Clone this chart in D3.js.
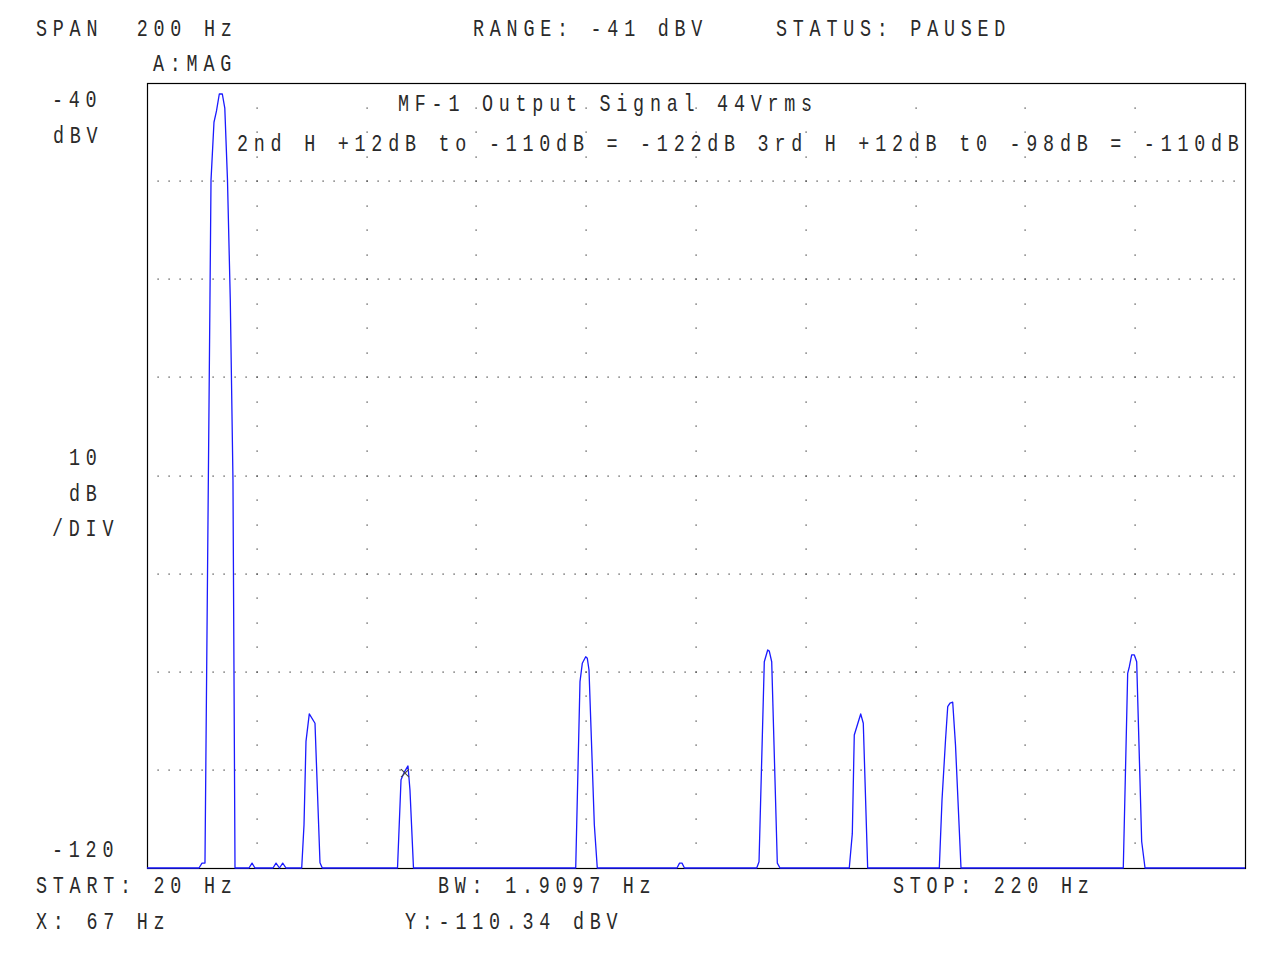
<!DOCTYPE html>
<html>
<head>
<meta charset="utf-8">
<script src="https://cdn.jsdelivr.net/npm/d3@7"></script>
<style>
  html, body { margin: 0; padding: 0; background: #fff; }
  svg { display: block; }
  text { font-family: "Liberation Mono", "DejaVu Sans Mono", monospace; font-size: 23px; fill: #2a2a2a; letter-spacing: 7.2px; }
</style>
</head>
<body>
<svg id="chart" width="1280" height="960"></svg>
<script>
// ---- data ----
const startHz = 20, stopHz = 220;
const topDb = -40, bottomDb = -120;
const gridFreqs = [40, 60, 80, 100, 120, 140, 160, 180, 200];
const gridDbs = [-50, -60, -70, -80, -90, -100, -110];

const traceFreq = [20, 29.47, 30.02, 30.56, 31.11, 31.66, 32.2, 32.66, 33.17, 33.72, 34.17, 34.66, 35.17, 35.66, 36.03,
  38.58, 39.13, 39.67, 42.95, 43.5, 44.13, 44.72, 45.32,
  48.18, 48.6, 48.96, 49.56, 50.6, 51.51, 51.93,
  65.63, 66.27, 66.9, 67.54, 67.9, 68.54,
  98.09, 98.87, 99.29, 99.91, 100.2, 100.51, 101.48, 102.02,
  116.54, 117.0, 117.45, 117.9,
  131.06, 131.48, 132.44, 133.06, 133.35, 133.79, 134.81, 135.3,
  147.92, 148.47, 148.83, 150.0, 150.47, 151.27,
  164.32, 164.81, 165.45, 165.85, 166.27, 166.76, 167.27, 168.27,
  197.83, 198.63, 198.93, 199.36, 199.84, 200.27, 201.18, 201.79, 220];
const traceDb = [-120, -120, -119.5, -119.5, -84.5, -49.9, -44.0, -42.85, -41.12, -41.12, -42.55, -49.9, -62.1, -80.5, -120,
  -120, -119.5, -120, -120, -119.5, -120, -119.5, -120,
  -120, -115.6, -107.1, -104.3, -105.25, -119.46, -120,
  -120, -111.0, -110.2, -109.6, -112.05, -120,
  -120, -101.0, -99.14, -98.47, -98.63, -99.82, -115.6, -120,
  -120, -119.5, -119.5, -120,
  -120, -119.36, -98.98, -97.78, -97.9, -98.98, -119.5, -120,
  -120, -116.5, -106.45, -104.3, -105.25, -120,
  -120, -113.07, -106.96, -103.56, -103.2, -103.1, -107.5, -120,
  -120, -100.16, -99.49, -98.29, -98.29, -98.98, -117.3, -120, -120];

const markerHz = 67, markerDb = -110.34;

const headerTexts = ["SPAN  200 Hz", "RANGE: -41 dBV", "STATUS: PAUSED", "A:MAG"];
const yLabelTexts = ["-40", "dBV", "10", "dB", "/DIV", "-120"];
const titleTexts = ["MF-1 Output Signal 44Vrms",
  "2nd H +12dB to -110dB = -122dB 3rd H +12dB t0 -98dB = -110dB"];
const footerTexts = ["START: 20 Hz", "BW: 1.9097 Hz", "STOP: 220 Hz", "X: 67 Hz", "Y:-110.34 dBV"];

// ---- drawing ----
const svg = d3.select("#chart");
const x = d3.scaleLinear().domain([startHz, stopHz]).range([147, 1245]);
const y = d3.scaleLinear().domain([topDb, bottomDb]).range([83, 868]);

// dotted grid: horizontal lines (dot every 2 Hz)
const hDots = [];
gridDbs.forEach(db => {
  d3.range(startHz + 2, stopHz, 2).forEach(f => hDots.push([f, db]));
});
// vertical lines (dot every 2.5 dB)
const vDots = [];
gridFreqs.forEach(f => {
  d3.range(topDb - 2.5, bottomDb, -2.5).forEach(db => vDots.push([f, db]));
});
svg.append("g").selectAll("rect").data(hDots.concat(vDots)).join("rect")
  .attr("x", d => Math.round(x(d[0])) - 0.5)
  .attr("y", d => Math.round(y(d[1])) - 0.5)
  .attr("width", 1.2).attr("height", 1.2)
  .attr("fill", "#333");

// frame
svg.append("rect")
  .attr("x", x(startHz) + 0.5).attr("y", y(topDb) + 0.5)
  .attr("width", x(stopHz) - x(startHz)).attr("height", y(bottomDb) - y(topDb))
  .attr("fill", "none").attr("stroke", "#000").attr("stroke-width", 1.2);

// trace
const pts = traceFreq.map((f, i) => [f, traceDb[i]]);
svg.append("path")
  .datum(pts)
  .attr("d", d3.line().x(d => x(d[0])).y(d => y(d[1])))
  .attr("fill", "none")
  .attr("stroke", "#1a1aff")
  .attr("stroke-width", 1.3)
  .attr("stroke-linejoin", "round");

// marker
const mx = x(markerHz), my = y(markerDb);
svg.append("path")
  .attr("d", `M${mx - 4},${my - 4}L${mx + 4},${my + 4}M${mx - 4},${my + 4}L${mx + 4},${my - 4}`)
  .attr("stroke", "#444").attr("stroke-width", 1.1).attr("fill", "none");

// texts (narrow plotter-style glyphs: horizontally condensed)
function label(str, px, py) {
  svg.append("text")
    .attr("transform", `translate(${px},${py}) scale(0.8,1)`)
    .attr("xml:space", "preserve").style("white-space", "pre")
    .text(str);
}
label(headerTexts[0], 36, 36);
label(headerTexts[1], 473, 36);
label(headerTexts[2], 776, 36);
label(headerTexts[3], 153, 71);

label(yLabelTexts[0], 52, 107);
label(yLabelTexts[1], 53, 143);
label(yLabelTexts[2], 69, 465);
label(yLabelTexts[3], 69, 501);
label(yLabelTexts[4], 52, 536);
label(yLabelTexts[5], 52, 857);

label(titleTexts[0], 398, 111);
label(titleTexts[1], 237, 151);

label(footerTexts[0], 36, 893);
label(footerTexts[1], 438, 893);
label(footerTexts[2], 893, 893);
label(footerTexts[3], 36, 929);
label(footerTexts[4], 405, 929);
</script>
</body>
</html>
